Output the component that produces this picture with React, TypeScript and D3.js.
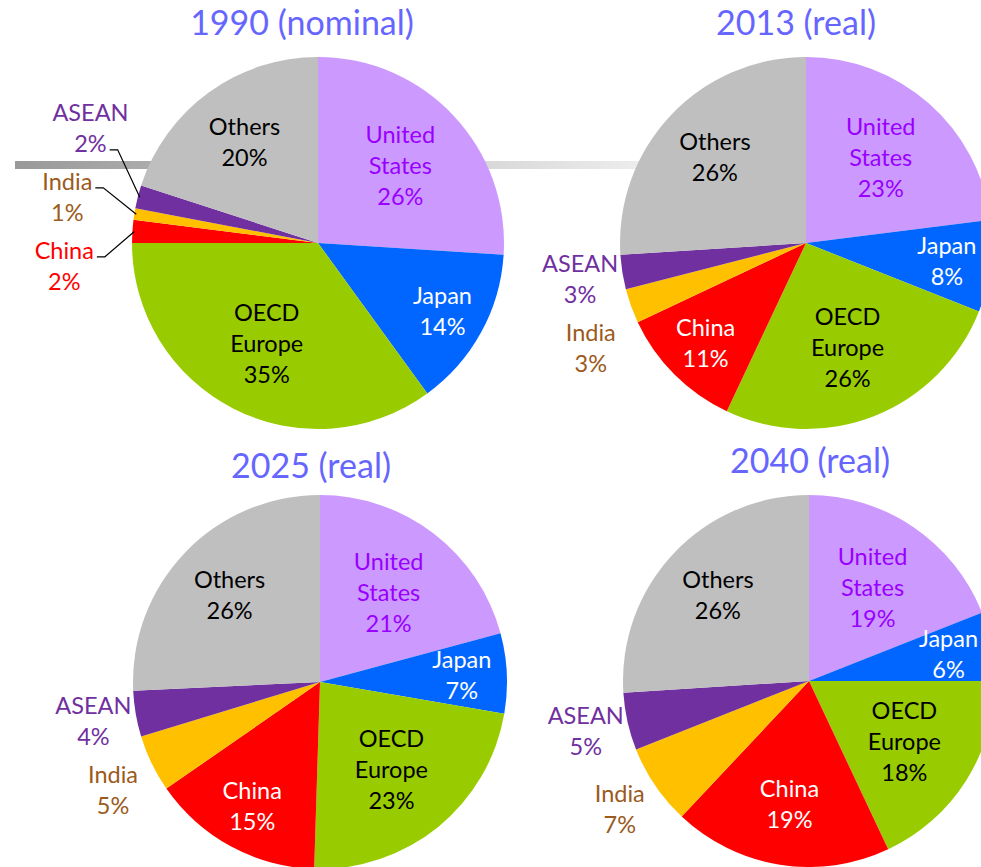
import * as d3 from 'd3';
import React, { useEffect, useRef } from 'react';

// regions, clockwise from 12 o'clock
const regions = ['United States', 'Japan', 'OECD Europe', 'China', 'India', 'ASEAN', 'Others'];
const labelLines = [['United', 'States'], ['Japan'], ['OECD', 'Europe'], ['China'], ['India'], ['ASEAN'], ['Others']];
const titles = ['1990 (nominal)', '2013 (real)', '2025 (real)', '2040 (real)'];

// shares in %
const shares1990 = [26, 14, 35, 2, 1, 2, 20];
const shares2013 = [23, 8, 26, 11, 3, 3, 26];
const shares2025 = [21, 7, 23, 15, 5, 4, 26];
const shares2040 = [19, 6, 18, 19, 7, 5, 26];
const allShares = [shares1990, shares2013, shares2025, shares2040];

const sliceColors = ['#CC99FF', '#0066FF', '#99CC00', '#FF0000', '#FFC000', '#7030A0', '#BFBFBF'];
const insideText = ['#9900FF', '#FFFFFF', '#000000', '#FFFFFF', '#FFFFFF', '#FFFFFF', '#000000'];
const outsideText = ['#9900FF', '#0066FF', '#000000', '#FF0000', '#9C5A1C', '#7030A0', '#000000'];

const width = 981, height = 867;
const font = 'Lato, "Open Sans", sans-serif';

// panel placement
const panels = [
  { cx: 318, cy: 243, r: 186, tx: 302, ty: 35 },
  { cx: 806, cy: 243, r: 186, tx: 796, ty: 35 },
  { cx: 320, cy: 682, r: 187, tx: 311, ty: 478 },
  { cx: 809, cy: 681, r: 186, tx: 810, ty: 473 },
];

const App = () => {
  const ref = useRef<SVGSVGElement>(null);

  useEffect(() => {
    const svg = d3.select(ref.current);
    svg.selectAll('*').remove();

    const defs = svg.append('defs');
    const grad = defs.append('linearGradient')
      .attr('id', 'rule')
      .attr('gradientUnits', 'userSpaceOnUse')
      .attr('x1', 15).attr('x2', 700).attr('y1', 0).attr('y2', 0);
    grad.append('stop').attr('offset', 0).attr('stop-color', '#999999');
    grad.append('stop').attr('offset', 1).attr('stop-color', '#f5f5f5');

    // gray rule behind the top pies
    svg.append('rect')
      .attr('x', 15).attr('y', 161)
      .attr('width', 685).attr('height', 8)
      .attr('fill', 'url(#rule)');

    const lineH = 31;

    panels.forEach((p, pi) => {
      const shares = allShares[pi];
      const g = svg.append('g').attr('transform', `translate(${p.cx},${p.cy})`);

      const pie = d3.pie<number>().sort(null).value(d => d);
      const arcs = pie(shares);
      const arc = d3.arc<d3.PieArcDatum<number>>().innerRadius(0).outerRadius(p.r);

      g.selectAll('path')
        .data(arcs)
        .join('path')
        .attr('d', arc)
        .attr('fill', (d, i) => sliceColors[i]);

      svg.append('text')
        .attr('x', p.tx).attr('y', p.ty)
        .attr('text-anchor', 'middle')
        .attr('font-family', font)
        .attr('font-size', 34)
        .attr('fill', '#6666FF')
        .text(titles[pi]);

      const total = d3.sum(shares);
      const labels = arcs.map((d, i) => {
        const frac = d.value / total;
        const mid = (d.startAngle + d.endAngle) / 2;
        const outside = frac < 0.08 && mid > Math.PI;
        const nLines = labelLines[i].length + 1;
        const rl = outside ? p.r * 1.23 : nLines === 3 ? 113 : frac >= 0.17 ? 125 : 142;
        const c = d3.arc<d3.PieArcDatum<number>>().innerRadius(rl).outerRadius(rl).centroid(d);
        return { i, d, frac, outside, x: c[0], y: c[1], leader: frac < 0.03 };
      });

      // spread outside labels so they do not overlap
      const outs = labels.filter(l => l.outside).sort((a, b) => a.y - b.y);
      const gap = 69;
      if (outs.some(l => l.leader)) {
        const mean = d3.mean(outs, l => l.y) as number;
        const start = mean - (gap * (outs.length - 1)) / 2 - 10;
        outs.forEach((l, k) => {
          l.y = start + k * gap;
          const rr = p.r * 1.37;
          l.x = -Math.sqrt(rr * rr - l.y * l.y);
        });
      } else {
        for (let k = 1; k < outs.length; k++) {
          if (outs[k].y < outs[k - 1].y + gap) outs[k].y = outs[k - 1].y + gap;
        }
      }

      labels.forEach(l => {
        const lines = [...labelLines[l.i], `${shares[l.i]}%`];
        const y0 = l.y - ((lines.length - 1) * lineH) / 2;
        const t = g.append('g');
        const texts = lines.map((s, k) =>
          t.append('text')
            .attr('x', l.x)
            .attr('y', y0 + k * lineH)
            .attr('dy', '0.35em')
            .attr('text-anchor', 'middle')
            .attr('font-family', font)
            .attr('font-size', 23.5)
            .attr('fill', l.outside ? outsideText[l.i] : insideText[l.i])
            .text(s)
        );

        if (l.leader) {
          const target = d3.arc<d3.PieArcDatum<number>>().innerRadius(p.r - 2).outerRadius(p.r - 2).centroid(l.d);
          // attach to the last line if the slice lies well below the label, else the first
          const last = lines.length - 1;
          const best = target[1] > y0 + last * lineH + 10 ? last : 0;
          const node = texts[best].node() as SVGTextElement;
          const bb = node.getBBox();
          const sx = bb.x + bb.width + 3;
          const sy = y0 + best * lineH + 6;
          g.append('path')
            .attr('d', d3.line()([[sx, sy], [sx + 8, sy], [target[0], target[1]]]))
            .attr('fill', 'none')
            .attr('stroke', '#000')
            .attr('stroke-width', 1.2);
        }
      });
    });
  }, []);

  return (
    <svg
      ref={ref}
      width={width}
      height={height}
      style={{ position: 'absolute', left: 0, top: 0, background: '#fff' }}
    />
  );
};

export default App;
